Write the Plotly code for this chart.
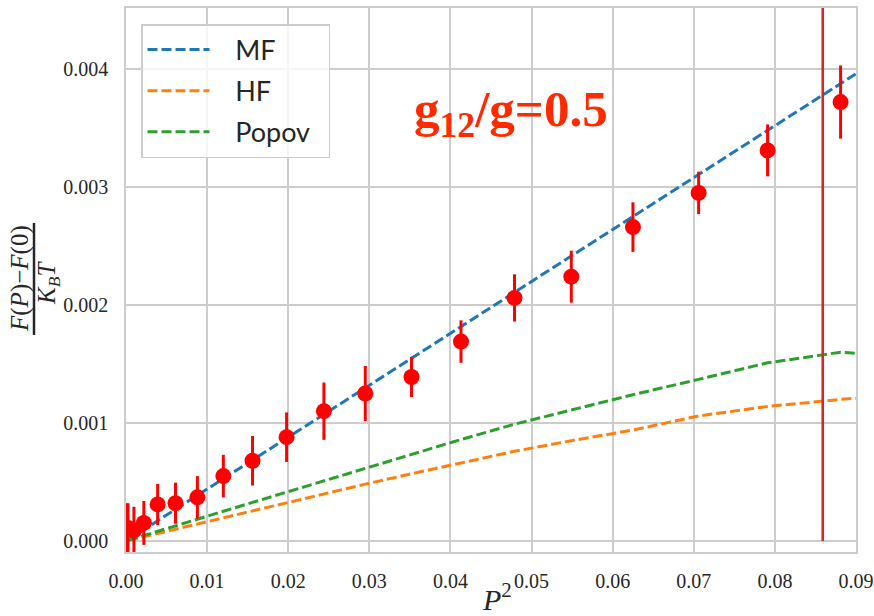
import plotly.graph_objects as go

# ---------------- data ----------------
P2 = [0.0, 0.000244, 0.000977, 0.0022, 0.0039, 0.0061, 0.0088, 0.0120, 0.0156, 0.0198,
      0.0244, 0.0295, 0.0352, 0.0413, 0.0479, 0.0549, 0.0625, 0.0706, 0.0791, 0.0881]
F_sim = [0.00010, 0.00011, 0.00009, 0.000153, 0.00031, 0.00032, 0.00037, 0.00055, 0.00068, 0.00088,
         0.00110, 0.00125, 0.00139, 0.00169, 0.00206, 0.00224, 0.00266, 0.00295, 0.00331, 0.00372]
F_err = [0.00022, 0.00021, 0.00020, 0.000186, 0.000174, 0.000174, 0.00018, 0.00018, 0.00021, 0.00021,
         0.000243, 0.000233, 0.00017, 0.00018, 0.00020, 0.00022, 0.00021, 0.00018, 0.00022, 0.00031]

x_theory = [0.000244, 0.000977, 0.0022, 0.0039, 0.0061, 0.0088, 0.0120, 0.0156, 0.0198, 0.0244,
            0.0295, 0.0352, 0.0413, 0.0479, 0.0549, 0.0625, 0.0706, 0.0791, 0.0881, 0.09]
MF = [0.0000107, 0.000043, 0.000097, 0.000172, 0.000269, 0.000388, 0.000528, 0.000686, 0.000871, 0.001074,
      0.001298, 0.001549, 0.001817, 0.002108, 0.002416, 0.00275, 0.003106, 0.00348, 0.003876, 0.00396]
HF = [0.000004, 0.000016, 0.000036, 0.000064, 0.0001, 0.000145, 0.000197, 0.000256, 0.000327, 0.000400,
      0.000482, 0.000570, 0.00066, 0.00076, 0.00085, 0.00094, 0.00106, 0.00114, 0.00120, 0.00121]
Popov = [0.000005, 0.00002, 0.000046, 0.000082, 0.000128, 0.000185, 0.000252, 0.000327, 0.000414, 0.000508,
         0.000612, 0.00073, 0.00086, 0.00099, 0.00111, 0.00124, 0.00137, 0.00151, 0.00160, 0.00159]

vline_x = [0.0859, 0.0859]
vline_y = [0.0, 0.0047]

x_ticks = [0.00, 0.01, 0.02, 0.03, 0.04, 0.05, 0.06, 0.07, 0.08, 0.09]
y_ticks = [0.000, 0.001, 0.002, 0.003, 0.004]

# ---------------- figure ----------------
fig = go.Figure()

dash = "10px,4px"
pad = "\u00a0\u00a0\u00a0"
tail = "\u00a0\u00a0"
fig.add_trace(go.Scatter(x=x_theory, y=MF, mode="lines", name=pad + "MF",
                         line=dict(color="#1f77b4", width=3), legendgroup="a"))
fig.add_trace(go.Scatter(x=x_theory, y=HF, mode="lines", name=pad + "HF",
                         line=dict(color="#ff7f0e", width=3), legendgroup="b"))
fig.add_trace(go.Scatter(x=x_theory, y=Popov, mode="lines", name=pad + "Popov" + tail,
                         line=dict(color="#2ca02c", width=3), legendgroup="c"))
for tr in fig.data:
    tr.line.dash = dash

fig.add_trace(go.Scatter(x=vline_x, y=vline_y, mode="lines", showlegend=False,
                         line=dict(color="#d62728", width=2.6)))

fig.add_trace(go.Scatter(x=P2, y=F_sim, mode="markers", showlegend=False,
                         marker=dict(color="#ff0000", size=16, line=dict(width=0)),
                         error_y=dict(type="data", array=F_err, visible=True,
                                      color="#ff0000", thickness=3, width=0)))

L, R, T, B = 126, 18, 8, 64
W, H = 874, 616
pw, ph = W - L - R, H - T - B

def px_x(p):
    return (p - L) / pw

def px_y(p):
    return (H - B - p) / ph

serif = "Liberation Serif, Times New Roman, serif"

fig.update_layout(
    width=W, height=H, autosize=False,
    margin=dict(l=L, r=R, t=T, b=B, autoexpand=False),
    paper_bgcolor="white", plot_bgcolor="white",
    showlegend=True,
    legend=dict(x=px_x(141), y=px_y(24), xanchor="left", yanchor="top",
                bgcolor="rgba(255,255,255,0.8)", bordercolor="#cccccc", borderwidth=1.5,
                font=dict(family="Lato, DejaVu Sans, sans-serif", size=27, color="#262626"),
                tracegroupgap=3, itemwidth=62),
    xaxis=dict(range=[0, 0.09], tickvals=x_ticks, tickformat=".2f", automargin=False,
               showgrid=True, gridcolor="#cccccc", gridwidth=1.5,
               showline=True, linecolor="#cccccc", linewidth=1.5, mirror=True,
               zeroline=False, ticks="", ticklabelstandoff=10,
               tickfont=dict(family=serif, size=20, color="#262626")),
    yaxis=dict(range=[-0.0000932, 0.004517], tickvals=y_ticks, tickformat=".3f", automargin=False,
               showgrid=True, gridcolor="#cccccc", gridwidth=1.5,
               showline=True, linecolor="#cccccc", linewidth=1.5, mirror=True,
               zeroline=False, ticks="", ticklabelstandoff=12,
               tickfont=dict(family=serif, size=20, color="#262626")),
)

# x-axis title
fig.add_annotation(xref="paper", yref="paper", x=px_x(497), y=px_y(597),
                   xanchor="center", yanchor="middle", showarrow=False,
                   text="<i>P</i><sup>2</sup>",
                   font=dict(family=serif, size=30, color="#262626"))

# y-axis title as a fraction
fig.add_annotation(xref="paper", yref="paper", x=px_x(20), y=px_y(279),
                   xanchor="center", yanchor="middle", showarrow=False, textangle=-90,
                   text="<i>F</i>(<i>P</i>)−<i>F</i>(0)",
                   font=dict(family=serif, size=25, color="#262626"))
fig.add_annotation(xref="paper", yref="paper", x=px_x(48), y=px_y(283),
                   xanchor="center", yanchor="middle", showarrow=False, textangle=-90,
                   text="<i>K<sub>B</sub>T</i>",
                   font=dict(family=serif, size=25, color="#262626"))
fig.add_shape(type="line", xref="paper", yref="paper",
              x0=px_x(34), x1=px_x(34), y0=px_y(223), y1=px_y(335),
              line=dict(color="#262626", width=2.5))

# in-plot label
fig.add_annotation(xref="paper", yref="paper", x=px_x(511), y=px_y(113),
                   xanchor="center", yanchor="middle", showarrow=False,
                   text="<b>g<sub>12</sub>/g=0.5</b>",
                   font=dict(family=serif, size=51, color="#ff2a00"))

fig.write_html("out.html")
